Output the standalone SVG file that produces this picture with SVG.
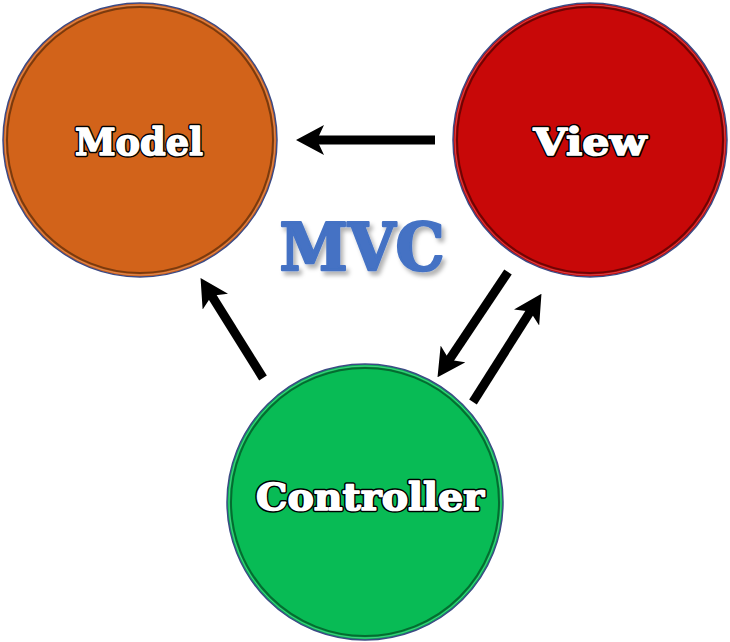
<svg xmlns="http://www.w3.org/2000/svg" width="730" height="642" viewBox="0 0 730 642">
<defs>
<style>
.lbl{font-family:"DejaVu Serif","Liberation Serif",serif;font-weight:bold;font-size:38px;text-anchor:middle}
.lo{fill:#000;stroke:#000;stroke-width:4.5;stroke-linejoin:round}
.li{fill:#fff;stroke:#fff;stroke-width:1.6;stroke-linejoin:round}
.title{font-family:"DejaVu Serif","Liberation Serif",serif;font-weight:bold;fill:#4472C4;stroke:#4472C4;stroke-width:2.5;stroke-linejoin:round;text-anchor:middle}
.edge{stroke:#000;stroke-width:9;fill:none;marker-end:url(#ah)}
.outer{stroke:#3c4a84;stroke-width:1.5}
.ring{fill:none;stroke-width:2}
.hl{fill:none;stroke-width:1;stroke:#ffffff;stroke-opacity:0.25}
</style>
<marker id="ah" viewBox="0 0 28 30" refX="9" refY="15" markerWidth="28" markerHeight="30" markerUnits="userSpaceOnUse" orient="auto">
<path d="M0,0 L28,15 L0,30 L7,15 Z" fill="#000"/>
</marker>
<filter id="sh" x="-10%" y="-10%" width="130%" height="140%">
<feDropShadow dx="3" dy="4" stdDeviation="2" flood-color="#000" flood-opacity="0.3"/>
</filter>
</defs>
<rect width="730" height="642" fill="#ffffff"/>
<g id="model">
<circle cx="140" cy="140" r="137" fill="#D2631A" class="outer"/>
<circle cx="140" cy="140" r="133" class="ring" stroke="#7a3a0e"/>
<circle cx="140" cy="140" r="135" class="hl"/>
<text x="139" y="155" class="lbl lo" textLength="128" lengthAdjust="spacingAndGlyphs">Model</text>
<text x="139" y="155" class="lbl li" textLength="128" lengthAdjust="spacingAndGlyphs">Model</text>
</g>
<g id="view">
<circle cx="590" cy="140" r="137" fill="#C80808" class="outer"/>
<circle cx="590" cy="140" r="133" class="ring" stroke="#6e0404"/>
<circle cx="590" cy="140" r="135" class="hl"/>
<text x="590" y="155" class="lbl lo" textLength="113" lengthAdjust="spacingAndGlyphs">View</text>
<text x="590" y="155" class="lbl li" textLength="113" lengthAdjust="spacingAndGlyphs">View</text>
</g>
<g id="controller">
<circle cx="365" cy="502" r="138" fill="#08BB55" class="outer"/>
<circle cx="365" cy="502" r="134" class="ring" stroke="#056b30"/>
<circle cx="365" cy="502" r="136" class="hl"/>
<text x="370" y="510" class="lbl lo" textLength="228" lengthAdjust="spacingAndGlyphs">Controller</text>
<text x="370" y="510" class="lbl li" textLength="228" lengthAdjust="spacingAndGlyphs">Controller</text>
</g>
<g id="title">
<text x="362" y="270" class="title" font-size="66" textLength="165" lengthAdjust="spacingAndGlyphs" filter="url(#sh)">MVC</text>
</g>
<g id="connectors">
<line x1="435" y1="140" x2="315" y2="140" class="edge"/>
<line x1="263" y1="378" x2="210.6" y2="294" class="edge"/>
<line x1="508" y1="272" x2="448.1" y2="361.4" class="edge"/>
<line x1="473" y1="402" x2="531.3" y2="309.9" class="edge"/>
</g>
</svg>
